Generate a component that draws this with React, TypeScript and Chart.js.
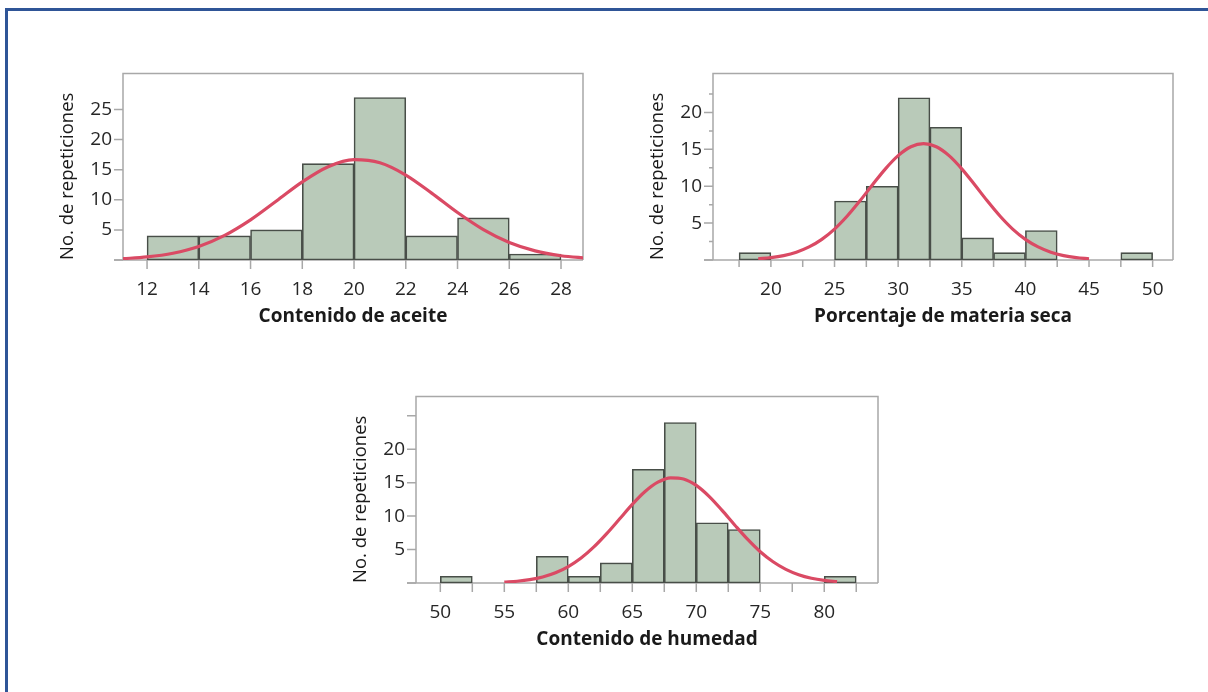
import React, { useEffect, useRef } from "react";
import { Chart, registerables } from "chart.js";

Chart.register(...registerables);

// ---------- Chart 1: Contenido de aceite ----------
const aceiteBinWidth = 2;
const aceiteBinStarts = [12, 14, 16, 18, 20, 22, 24, 26];
const aceiteCounts = [4, 4, 5, 16, 27, 4, 7, 1];
const aceiteCurveX = [11, 12, 13, 14, 15, 16, 17, 18, 19, 20, 21, 22, 23, 24, 25, 26, 27, 28, 29];
const aceiteCurveY = [0.2, 0.51, 1.13, 2.26, 4.09, 6.67, 9.8, 12.98, 15.5, 16.67, 16.15, 14.11, 11.11, 7.88, 5.04, 2.9, 1.51, 0.71, 0.3];
const aceiteXTicks = [12, 14, 16, 18, 20, 22, 24, 26, 28];
const aceiteXLabels = [12, 14, 16, 18, 20, 22, 24, 26, 28];
const aceiteYTicks = [0, 5, 10, 15, 20, 25];
const aceiteYMinorTicks: number[] = [];
const aceiteYLabels = [5, 10, 15, 20, 25];

// ---------- Chart 2: Porcentaje de materia seca ----------
const materiaBinWidth = 2.5;
const materiaBinStarts = [17.5, 20, 22.5, 25, 27.5, 30, 32.5, 35, 37.5, 40, 42.5, 45, 47.5];
const materiaCounts = [1, 0, 0, 8, 10, 22, 18, 3, 1, 4, 0, 0, 1];
const materiaCurveX = [19, 20, 21, 22, 23, 24, 25, 26, 27, 28, 29, 30, 31, 32, 33, 34, 35, 36, 37, 38, 39, 40, 41, 42, 43, 44, 45];
const materiaCurveY = [0.16, 0.32, 0.6, 1.06, 1.77, 2.8, 4.19, 5.96, 8.02, 10.23, 12.36, 14.15, 15.35, 15.77, 15.35, 14.15, 12.36, 10.23, 8.02, 5.96, 4.19, 2.8, 1.77, 1.06, 0.6, 0.32, 0.16];
const materiaXTicks = [17.5, 20, 22.5, 25, 27.5, 30, 32.5, 35, 37.5, 40, 42.5, 45, 47.5, 50];
const materiaXLabels = [20, 25, 30, 35, 40, 45, 50];
const materiaYTicks = [0, 5, 10, 15, 20];
const materiaYMinorTicks = [2.5, 7.5, 12.5, 17.5, 22.5];
const materiaYLabels = [5, 10, 15, 20];

// ---------- Chart 3: Contenido de humedad ----------
const humedadBinWidth = 2.5;
const humedadBinStarts = [50, 52.5, 55, 57.5, 60, 62.5, 65, 67.5, 70, 72.5, 75, 77.5, 80];
const humedadCounts = [1, 0, 0, 4, 1, 3, 17, 24, 9, 8, 0, 0, 1];
const humedadCurveX = [55, 56, 57, 58, 59, 60, 61, 62, 63, 64, 65, 66, 67, 68, 69, 70, 71, 72, 73, 74, 75, 76, 77, 78, 79, 80, 81];
const humedadCurveY = [0.13, 0.26, 0.5, 0.9, 1.52, 2.45, 3.73, 5.39, 7.38, 9.56, 11.75, 13.67, 15.07, 15.73, 15.56, 14.59, 12.95, 10.89, 8.68, 6.55, 4.68, 3.18, 2.04, 1.24, 0.71, 0.39, 0.2];
const humedadXTicks = [50, 52.5, 55, 57.5, 60, 62.5, 65, 67.5, 70, 72.5, 75, 77.5, 80, 82.5];
const humedadXLabels = [50, 55, 60, 65, 70, 75, 80];
const humedadYTicks = [0, 5, 10, 15, 20, 25];
const humedadYMinorTicks: number[] = [];
const humedadYLabels = [5, 10, 15, 20];

const yTitleText = "No. de repeticiones";
const FONT = "'Open Sans', 'Noto Sans', 'DejaVu Sans', sans-serif";

const framePlugin = {
  id: "frame",
  beforeDatasetsDraw(chart: any, _args: any, opts: any) {
    const { ctx, chartArea } = chart;
    const { left, right, top, bottom } = chartArea;
    const x = chart.scales.x;
    const y = chart.scales.y;
    ctx.save();
    ctx.strokeStyle = "#a8a8a8";
    ctx.lineWidth = 1.5;
    ctx.beginPath();
    ctx.moveTo(left, bottom);
    ctx.lineTo(left, top);
    ctx.lineTo(right, top);
    ctx.lineTo(right, bottom);
    ctx.stroke();
    ctx.beginPath();
    ctx.moveTo(left - opts.yLen, bottom);
    ctx.lineTo(right, bottom);
    ctx.stroke();
    ctx.beginPath();
    (opts.yMajor as number[]).forEach((v) => {
      const py = y.getPixelForValue(v);
      ctx.moveTo(left - opts.yLen, py);
      ctx.lineTo(left, py);
    });
    (opts.yMinor as number[]).forEach((v) => {
      const py = y.getPixelForValue(v);
      ctx.moveTo(left - opts.yMinorLen, py);
      ctx.lineTo(left, py);
    });
    (opts.xTicks as number[]).forEach((v) => {
      const px = x.getPixelForValue(v);
      ctx.moveTo(px, bottom);
      ctx.lineTo(px, bottom + opts.xLen);
    });
    ctx.stroke();
    ctx.restore();
  },
};

type HistProps = {
  left: number;
  top: number;
  width: number;
  height: number;
  binStarts: number[];
  binWidth: number;
  counts: number[];
  curveX: number[];
  curveY: number[];
  xMin: number;
  xMax: number;
  yMax: number;
  xTicks: number[];
  xLabels: number[];
  yTicks: number[];
  yMinorTicks: number[];
  yLabels: number[];
  xTickLen: number;
  xTitle: string;
};

function Histogram(p: HistProps) {
  const ref = useRef<HTMLCanvasElement | null>(null);
  useEffect(() => {
    if (!ref.current) return;
    const chart = new Chart(ref.current, {
      type: "bar",
      data: {
        datasets: [
          {
            type: "line",
            data: p.curveX.map((x, i) => ({ x, y: p.curveY[i] })),
            borderColor: "#DA4A64",
            borderWidth: 3.2,
            pointRadius: 0,
            cubicInterpolationMode: "monotone",
            fill: false,
            order: 0,
          } as any,
          {
            type: "bar",
            data: p.binStarts.map((s, i) => ({ x: s + p.binWidth / 2, y: p.counts[i] })),
            backgroundColor: "#B9CAB9",
            borderColor: "#484e48",
            borderWidth: 1.6,
            borderSkipped: false,
            barPercentage: 1,
            categoryPercentage: 1,
            grouped: false,
            order: 1,
          } as any,
        ],
      },
      options: {
        responsive: false,
        animation: false,
        layout: { padding: { top: 10, right: 17, left: 0, bottom: 0 } },
        plugins: {
          legend: { display: false },
          tooltip: { enabled: false },
          frame: { yMajor: p.yTicks, yMinor: p.yMinorTicks, xTicks: p.xTicks, yLen: 9, yMinorLen: 4, xLen: p.xTickLen },
        } as any,
        scales: {
          x: {
            type: "linear",
            min: p.xMin,
            max: p.xMax,
            offset: false,
            afterFit: (s: any) => {
              s.height = 80;
            },
            afterBuildTicks: (s: any) => {
              s.ticks = p.xLabels.map((v) => ({ value: v }));
            },
            grid: { display: false, drawTicks: true, tickLength: 9, offset: false },
            border: { display: false },
            ticks: { font: { family: FONT, size: 19 }, color: "#262626", padding: 9, maxRotation: 0, autoSkip: false },
            title: {
              display: true,
              text: p.xTitle,
              font: { family: FONT, size: 19, weight: "bold" },
              color: "#1a1a1a",
              padding: { top: 0, bottom: 12 },
            },
          },
          y: {
            type: "linear",
            min: 0,
            max: p.yMax,
            afterFit: (s: any) => {
              s.width = 83;
            },
            afterBuildTicks: (s: any) => {
              s.ticks = p.yLabels.map((v) => ({ value: v }));
            },
            grid: { display: false, drawTicks: true, tickLength: 9 },
            border: { display: false },
            ticks: { font: { family: FONT, size: 19 }, color: "#262626", padding: 2 },
            title: {
              display: true,
              text: yTitleText,
              align: "start",
              font: { family: FONT, size: 18.5 },
              color: "#1a1a1a",
              padding: { top: 17, bottom: 0 },
            },
          },
        } as any,
      },
      plugins: [framePlugin as any],
    });
    return () => chart.destroy();
  }, []);
  return (
    <canvas
      ref={ref}
      width={p.width}
      height={p.height}
      style={{ position: "absolute", left: p.left, top: p.top, width: p.width, height: p.height }}
    />
  );
}

export default function App() {
  return (
    <div style={{ position: "relative", width: 1208, height: 692, overflow: "hidden", background: "#ffffff" }}>
      <style>{"body{margin:0;}"}</style>
      <div
        style={{
          position: "absolute",
          left: 5,
          top: 8,
          width: 1400,
          height: 900,
          borderTop: "3px solid #2F5597",
          borderLeft: "3px solid #2F5597",
        }}
      />
      <Histogram
        left={40}
        top={60}
        width={560}
        height={280}
        binStarts={aceiteBinStarts}
        binWidth={aceiteBinWidth}
        counts={aceiteCounts}
        curveX={aceiteCurveX}
        curveY={aceiteCurveY}
        xMin={11.07}
        xMax={28.85}
        yMax={31}
        xTicks={aceiteXTicks}
        xLabels={aceiteXLabels}
        yTicks={aceiteYTicks}
        yMinorTicks={aceiteYMinorTicks}
        yLabels={aceiteYLabels}
        xTickLen={9}
        xTitle="Contenido de aceite"
      />
      <Histogram
        left={630}
        top={60}
        width={560}
        height={280}
        binStarts={materiaBinStarts}
        binWidth={materiaBinWidth}
        counts={materiaCounts}
        curveX={materiaCurveX}
        curveY={materiaCurveY}
        xMin={15.45}
        xMax={51.6}
        yMax={25.3}
        xTicks={materiaXTicks}
        xLabels={materiaXLabels}
        yTicks={materiaYTicks}
        yMinorTicks={materiaYMinorTicks}
        yLabels={materiaYLabels}
        xTickLen={7}
        xTitle="Porcentaje de materia seca"
      />
      <Histogram
        left={333}
        top={383}
        width={562}
        height={280}
        binStarts={humedadBinStarts}
        binWidth={humedadBinWidth}
        counts={humedadCounts}
        curveX={humedadCurveX}
        curveY={humedadCurveY}
        xMin={48.1}
        xMax={84.2}
        yMax={27.9}
        xTicks={humedadXTicks}
        xLabels={humedadXLabels}
        yTicks={humedadYTicks}
        yMinorTicks={humedadYMinorTicks}
        yLabels={humedadYLabels}
        xTickLen={9}
        xTitle="Contenido de humedad"
      />
    </div>
  );
}
